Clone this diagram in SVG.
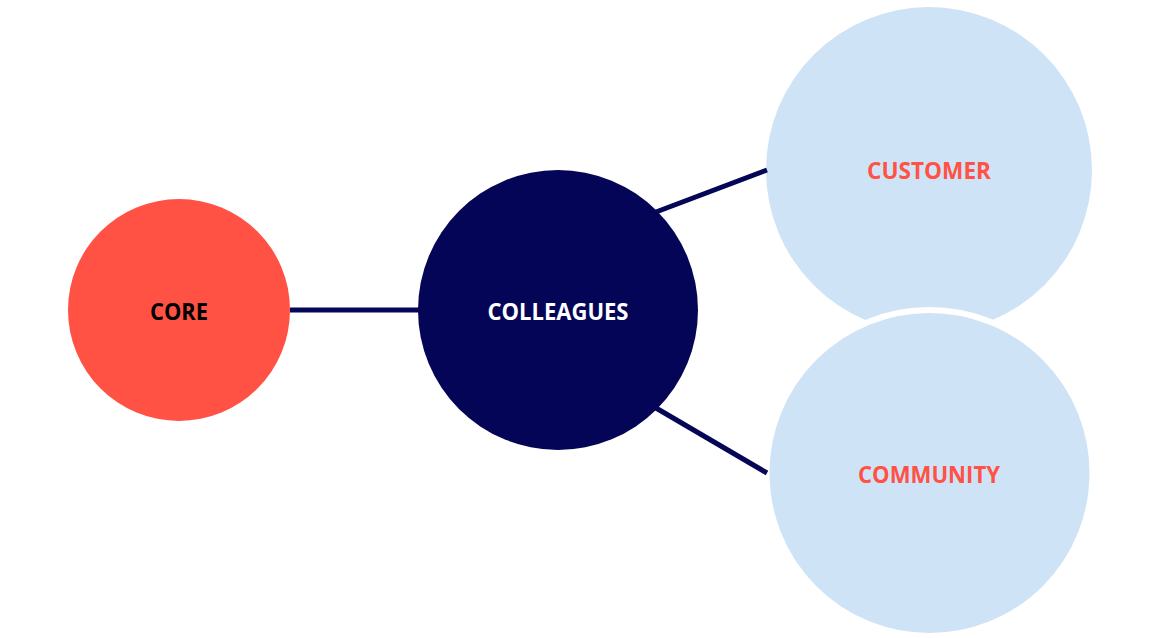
<svg xmlns="http://www.w3.org/2000/svg" width="1160" height="638" viewBox="0 0 1160 638">
<style>
.lbl{font-family:"Open Sans","Liberation Sans",sans-serif;font-weight:700;font-size:24px;text-anchor:middle}
.edge{stroke:#050656;stroke-width:5;fill:none}
</style>
<rect width="1160" height="638" fill="#ffffff"/>
<g id="core">
<circle cx="179" cy="310" r="111" fill="#FF5245"/>
<text class="lbl" x="179" y="320" fill="#000000" textLength="58" lengthAdjust="spacingAndGlyphs">CORE</text>
</g>
<g id="colleagues">
<circle cx="558" cy="310" r="140" fill="#040556"/>
<text class="lbl" x="558" y="320" fill="#ffffff" textLength="141" lengthAdjust="spacingAndGlyphs">COLLEAGUES</text>
</g>
<g id="customer">
<circle cx="929" cy="170" r="163" fill="#CFE3F7"/>
<text class="lbl" x="929" y="179" fill="#FF5245" textLength="124" lengthAdjust="spacingAndGlyphs">CUSTOMER</text>
</g>
<g id="community">
<circle cx="929.5" cy="473" r="163" fill="#CFE3F7" stroke="#ffffff" stroke-width="6"/>
<text class="lbl" x="929" y="483" fill="#FF5245" textLength="142" lengthAdjust="spacingAndGlyphs">COMMUNITY</text>
</g>
<g id="connectors">
<line class="edge" x1="290" y1="310" x2="419" y2="310"/>
<line class="edge" x1="656" y1="212" x2="767" y2="170"/>
<line class="edge" x1="656" y1="408" x2="767" y2="473"/>
</g>
</svg>
